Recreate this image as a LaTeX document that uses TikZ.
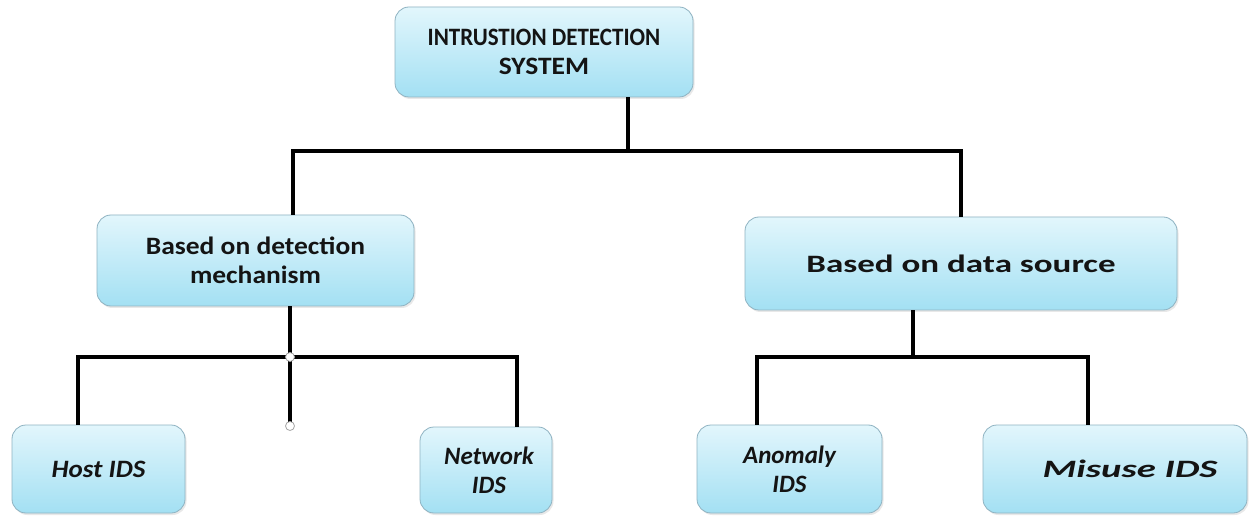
\documentclass[tikz,border=0pt]{standalone}
\usepackage{fontspec}
\usepackage{graphicx}
\setmainfont{Carlito}
\usetikzlibrary{shadows}
\definecolor{boxtop}{HTML}{E2F6FC}
\definecolor{boxbot}{HTML}{A3E0F3}
\definecolor{boxline}{HTML}{8FB3C2}
\definecolor{ink}{HTML}{141414}
% horizontally widened label line
\newcommand{\wline}[2]{\scalebox{#1}[1]{#2}}
\tikzset{
  box/.style={rectangle, rounded corners=14pt, draw=boxline, line width=0.8pt,
    top color=boxtop, bottom color=boxbot, align=center, text=ink,
    inner sep=2pt,
    drop shadow={opacity=0.18, shadow xshift=1.5pt, shadow yshift=-2pt},
    font=\bfseries\fontsize{25}{29}\selectfont},
  leaf/.style={box, font=\bfseries\itshape\fontsize{25}{29}\selectfont},
  conn/.style={line width=3.8pt, draw=black, line join=miter},
  knob/.style={circle, draw=gray!70, fill=white, line width=0.8pt,
    inner sep=0pt, minimum size=9pt}
}
\begin{document}
\begin{tikzpicture}[x=1pt,y=-1pt]
\useasboundingbox (0,0) rectangle (1252,518);
\fill[white] (0,0) rectangle (1252,518);

% boxes
\node[box, minimum width=298pt, minimum height=90pt] (ids) at (544,52)
  {\wline{0.92}{INTRUSTION DETECTION}\\\wline{1.1}{SYSTEM}};
\node[box, minimum width=317pt, minimum height=91pt] (mech) at (255.5,260.5)
  {\wline{1.1}{Based on detection}\\\wline{1.1}{mechanism}};
\node[box, minimum width=432pt, minimum height=93pt] (src) at (961,263.5)
  {\wline{1.4}{Based on data source}};
\node[leaf, minimum width=173pt, minimum height=88pt] (host) at (98.5,469)
  {\wline{1.08}{Host IDS}};
\node[leaf, minimum width=132pt, minimum height=86pt] (net) at (486,470)
  {\hspace*{6pt}\wline{1.0}{Network}\\\hspace*{6pt}\wline{1.0}{IDS}};
\node[leaf, minimum width=185pt, minimum height=88pt] (anom) at (789.5,469)
  {\wline{1.0}{Anomaly}\\\wline{1.0}{IDS}};
\node[leaf, minimum width=264pt, minimum height=88pt] (mis) at (1115,469)
  {\hspace*{30pt}\wline{1.55}{Misuse IDS}};

% junction points
\coordinate (j0) at (628,151);
\coordinate (jl) at (293,151);
\coordinate (jr) at (961,151);
\coordinate (k0) at (290,357);
\coordinate (kl) at (78,357);
\coordinate (kr) at (517,357);
\coordinate (kend) at (290,426);
\coordinate (m0) at (913,357);
\coordinate (ml) at (757,357);
\coordinate (mr) at (1088,357);

% top level
\draw[conn] (ids.south -| j0) -- (j0);
\draw[conn] (mech.north -| jl) -- (jl) -- (jr) -- (src.north -| jr);

% detection mechanism branch
\draw[conn] (mech.south -| k0) -- (kend);
\draw[conn] (host.north -| kl) -- (kl) -- (kr) -- (net.north -| kr);
\node[knob] (h1) at (k0) {};
\node[knob] (h2) at (kend) {};

% data source branch
\draw[conn] (src.south -| m0) -- (m0);
\draw[conn] (anom.north -| ml) -- (ml) -- (mr) -- (mis.north -| mr);
\end{tikzpicture}
\end{document}
